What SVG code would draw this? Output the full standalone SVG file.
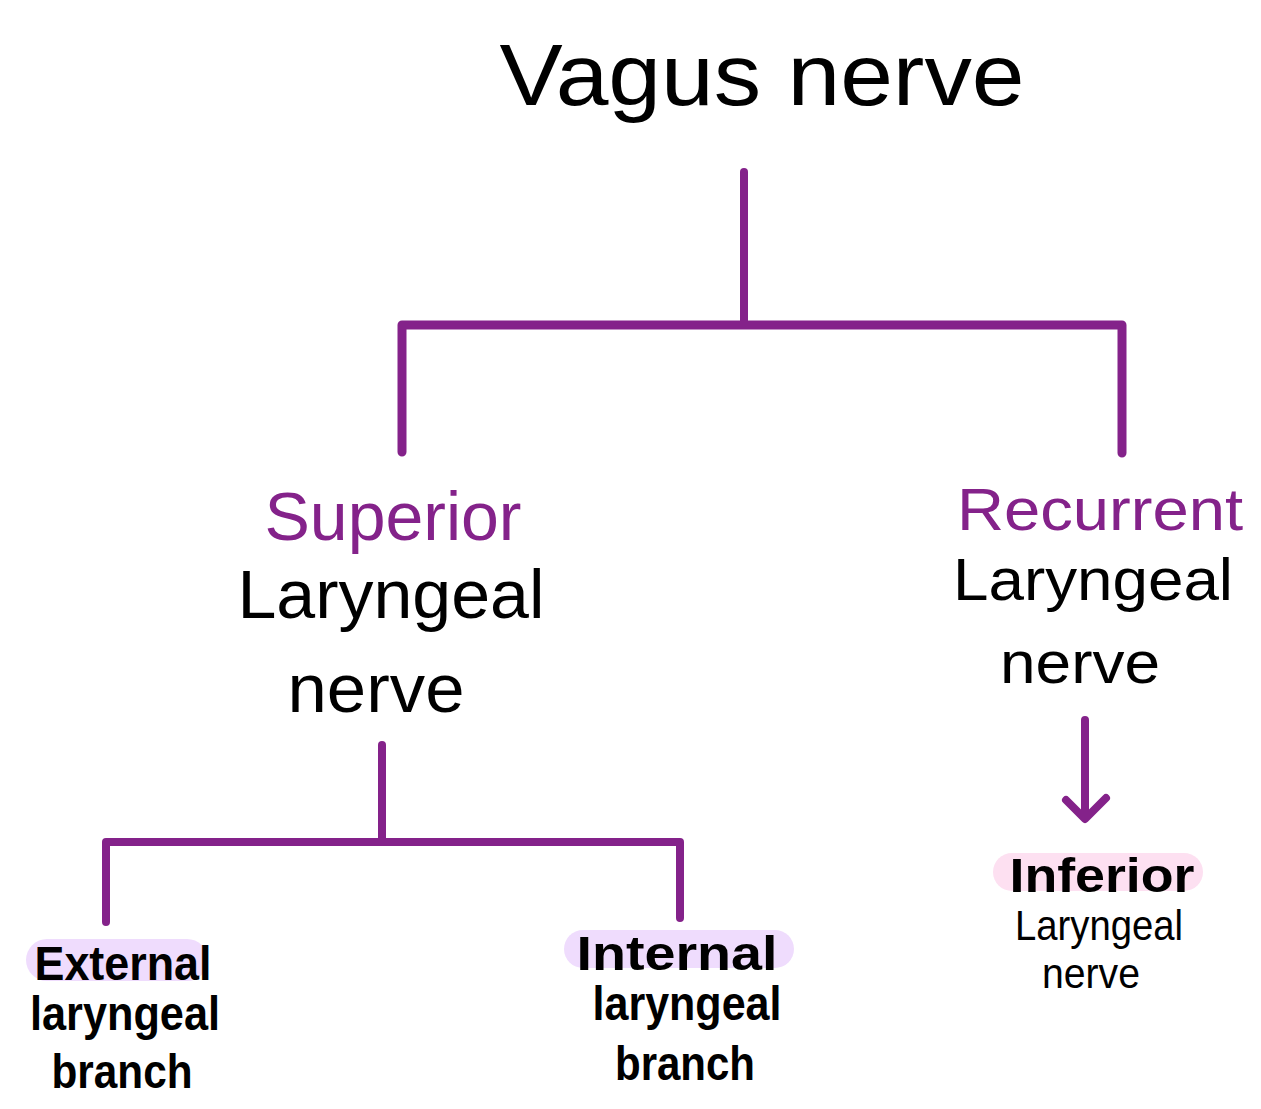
<svg xmlns="http://www.w3.org/2000/svg" width="1261" height="1109" viewBox="0 0 1261 1109">
<style>
  text { font-family: "Liberation Sans", Arial, sans-serif; text-anchor: middle; }
  .title { font-size: 88px; fill: #000; }
  .purple { fill: #84228a; }
  .black { fill: #000; }
  .mid { font-size: 68px; }
  .mid2 { font-size: 60px; }
  .small { font-size: 48px; font-weight: bold; }
  .tiny { font-size: 42px; }
  .line { stroke: #84228a; stroke-width: 8; stroke-linecap: round; stroke-linejoin: round; fill: none; }
  .lav { fill: #efdcfd; }
  .pink { fill: #fde0f1; }
</style>
<rect width="1261" height="1109" fill="#fff"/>
<g id="connectors">
  <path class="line" d="M744 172 V322"/>
  <path class="line" d="M402 452 V325 H1122 V453" style="stroke-width:9"/>
  <path class="line" d="M382 745 V842"/>
  <path class="line" d="M106 922 V842 H680 V918"/>
  <path class="line" d="M1085 720 V818 M1066 800 L1085 819 L1106 798"/>
</g>
<g id="vagus">
  <text class="title" x="762" y="105" textLength="525" lengthAdjust="spacingAndGlyphs">Vagus nerve</text>
</g>
<g id="superior">
  <text class="mid purple" x="393" y="540" textLength="257" lengthAdjust="spacingAndGlyphs">Superior</text>
  <text class="mid black" x="391" y="618" textLength="307" lengthAdjust="spacingAndGlyphs">Laryngeal</text>
  <text class="mid black" x="376" y="712" textLength="177" lengthAdjust="spacingAndGlyphs">nerve</text>
</g>
<g id="recurrent">
  <text class="mid2 purple" x="1100" y="530" textLength="286" lengthAdjust="spacingAndGlyphs">Recurrent</text>
  <text class="mid2 black" x="1093" y="600" textLength="280" lengthAdjust="spacingAndGlyphs">Laryngeal</text>
  <text class="mid2 black" x="1080" y="683" textLength="160" lengthAdjust="spacingAndGlyphs">nerve</text>
</g>
<g id="external">
  <rect class="lav" x="26" y="939" width="182" height="42" rx="21"/>
  <text class="small black" x="123" y="980" textLength="177" lengthAdjust="spacingAndGlyphs">External</text>
  <text class="small black" x="125" y="1030" textLength="190" lengthAdjust="spacingAndGlyphs">laryngeal</text>
  <text class="small black" x="122" y="1088" textLength="141" lengthAdjust="spacingAndGlyphs">branch</text>
</g>
<g id="internal">
  <rect class="lav" x="564" y="930" width="230" height="38" rx="19"/>
  <text class="small black" x="677" y="970" textLength="201" lengthAdjust="spacingAndGlyphs">Internal</text>
  <text class="small black" x="687" y="1020" textLength="189" lengthAdjust="spacingAndGlyphs">laryngeal</text>
  <text class="small black" x="685" y="1080" textLength="140" lengthAdjust="spacingAndGlyphs">branch</text>
</g>
<g id="inferior">
  <rect class="pink" x="993" y="853" width="210" height="38" rx="19"/>
  <text class="small black" x="1102" y="892" textLength="185" lengthAdjust="spacingAndGlyphs">Inferior</text>
  <text class="tiny black" x="1099" y="940" textLength="168" lengthAdjust="spacingAndGlyphs">Laryngeal</text>
  <text class="tiny black" x="1091" y="988" textLength="98" lengthAdjust="spacingAndGlyphs">nerve</text>
</g>
</svg>
